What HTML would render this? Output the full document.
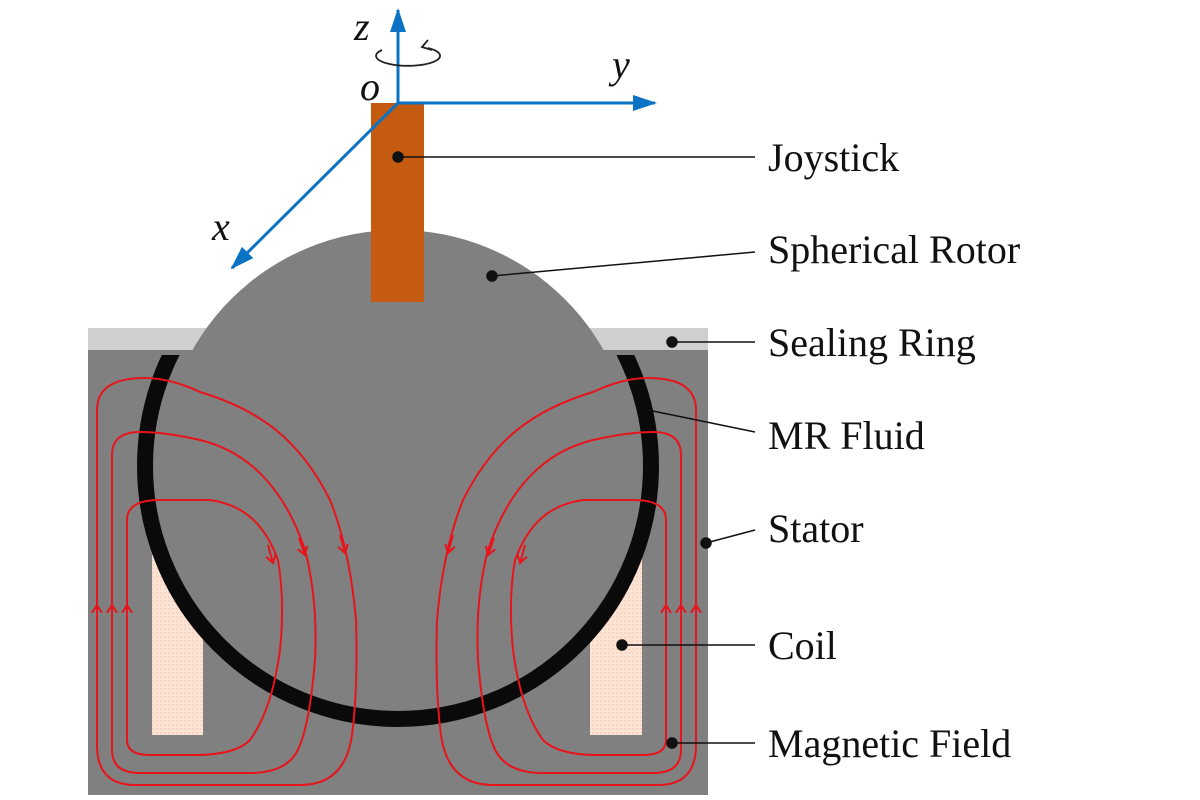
<!DOCTYPE html>
<html><head><meta charset="utf-8"><style>
html,body{margin:0;padding:0;background:#fff;}
svg{display:block;}
text{font-family:"Liberation Serif",serif;}
</style></head><body>
<svg width="1200" height="800" viewBox="0 0 1200 800">
<defs>
<pattern id="dots" width="4" height="4" patternUnits="userSpaceOnUse"><rect width="4" height="4" fill="#fde3d3"/><circle cx="1" cy="1" r="0.7" fill="#f0c0a8"/></pattern>
<marker id="ar" markerWidth="12" markerHeight="12" refX="8" refY="6" orient="auto" markerUnits="userSpaceOnUse"><path d="M0,1 L8,6 L0,11" fill="none" stroke="#e8141c" stroke-width="2"/></marker>
<marker id="blue" markerWidth="26" markerHeight="20" refX="22" refY="10" orient="auto" markerUnits="userSpaceOnUse"><path d="M0,2 L24,10 L0,18 Z" fill="#0b72c4"/></marker>
<clipPath id="below"><rect x="0" y="355" width="1200" height="445"/></clipPath>
<clipPath id="below2"><rect x="0" y="350" width="1200" height="450"/></clipPath>
</defs>
<rect x="88" y="328" width="620" height="24" fill="#cfcfcf"/>
<rect x="88" y="350" width="620" height="445" fill="#808080"/>
<rect x="152" y="555" width="51" height="180" fill="url(#dots)"/>
<rect x="590" y="555" width="52" height="180" fill="url(#dots)"/>
<circle cx="398" cy="466" r="236" fill="#808080"/>
<circle cx="398" cy="466" r="247" fill="#808080" clip-path="url(#below2)"/>
<circle cx="398" cy="466" r="253" fill="none" stroke="#0a0a0a" stroke-width="16" clip-path="url(#below)"/>
<g id="fl" fill="none" stroke="#e8141c" stroke-width="2">
<path d="M97,740 L97,410 Q97,378 145,378 Q170,378 200,392 C260,410 300,440 330,500 Q350,550 356,620 Q358,690 352,735 Q345,785 300,785 L135,785 Q97,785 97,745 Z"/>
<path d="M112,740 L112,455 Q112,432 140,432 Q165,432 200,440 C250,452 285,490 305,550 Q318,600 315,660 Q310,720 300,745 Q290,773 250,773 L140,773 Q112,773 112,750 Z"/>
<path d="M127,735 L127,520 Q127,500 160,500 L210,500 C245,505 265,525 278,560 Q285,600 280,650 Q272,710 250,740 Q235,755 195,755 L150,755 Q127,755 127,740 Z"/>
<path d="M97,625 L97,605" marker-end="url(#ar)"/><path d="M112,625 L112,605" marker-end="url(#ar)"/><path d="M127,625 L127,605" marker-end="url(#ar)"/>
<path d="M340,535 L345,553" marker-end="url(#ar)"/><path d="M299,538 L305,555" marker-end="url(#ar)"/><path d="M268,545 L273,563" marker-end="url(#ar)"/>
</g>
<g transform="translate(793,0) scale(-1,1)"><use href="#fl"/></g>
<rect x="371" y="103" width="53" height="199" fill="#c55a11"/>
<g stroke="#0b72c4" stroke-width="3" fill="none">
<line x1="398" y1="103" x2="398" y2="10" marker-end="url(#blue)"/>
<line x1="398" y1="103" x2="655" y2="103" marker-end="url(#blue)"/>
<line x1="398" y1="103" x2="232" y2="268" marker-end="url(#blue)"/>
</g>
<path d="M382,50 A32,10 0 1 0 428,48" fill="none" stroke="#222" stroke-width="1.8"/>
<path d="M428,40 L422,47 L432,50" fill="none" stroke="#222" stroke-width="1.8"/>
<g font-style="italic" font-size="40" fill="#111">
<text x="354" y="40">z</text>
<text x="360" y="100">o</text>
<text x="612" y="78">y</text>
<text x="212" y="240">x</text>
</g>
<g stroke="#111" stroke-width="1.5" fill="#111">
<line x1="398" y1="157" x2="755" y2="157"/><circle cx="398" cy="157" r="5"/>
<line x1="492" y1="276" x2="755" y2="252"/><circle cx="492" cy="276" r="5"/>
<line x1="672" y1="342" x2="755" y2="342"/><circle cx="672" cy="342" r="5"/>
<line x1="648" y1="410" x2="755" y2="432"/>
<line x1="706" y1="543" x2="755" y2="530"/><circle cx="706" cy="543" r="5"/>
<line x1="622" y1="645" x2="755" y2="645"/><circle cx="622" cy="645" r="5"/>
<line x1="672" y1="743" x2="755" y2="743"/><circle cx="672" cy="743" r="5"/>
</g>
<g font-size="40" fill="#111">
<text x="768" y="171">Joystick</text>
<text x="768" y="263">Spherical Rotor</text>
<text x="768" y="356">Sealing Ring</text>
<text x="768" y="449">MR Fluid</text>
<text x="768" y="542">Stator</text>
<text x="768" y="659">Coil</text>
<text x="768" y="757">Magnetic Field</text>
</g>
</svg>
</body></html>
